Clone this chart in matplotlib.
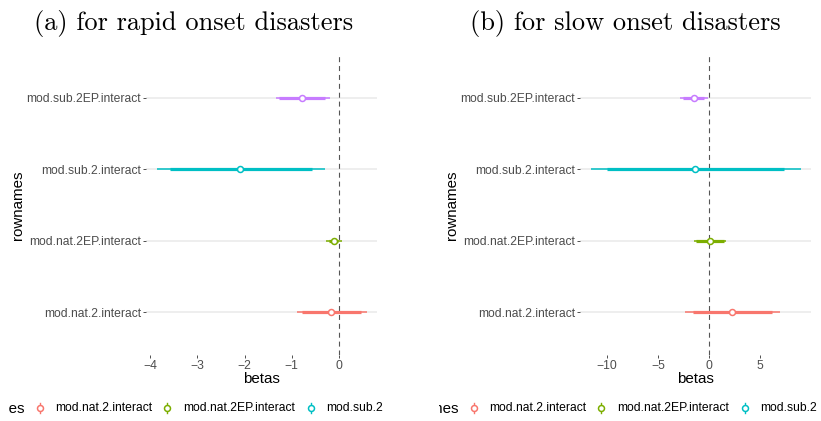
import matplotlib.pyplot as plt
from matplotlib.lines import Line2D
from matplotlib.patches import Rectangle

# model rows, bottom to top
rows = ['mod.nat.2.interact', 'mod.nat.2EP.interact',
        'mod.sub.2.interact', 'mod.sub.2EP.interact']
colors = ['#F8766D', '#7CAE00', '#00BFC4', '#C77CFF']
titles = ['(a) for rapid onset disasters', '(b) for slow onset disasters']

# (a) rapid onset: estimate, outer / inner interval ends
rapid_est = [-0.16, -0.09, -2.09, -0.77]
rapid_lo_out = [-0.89, -0.26, -3.87, -1.34]
rapid_lo_in = [-0.77, -0.20, -3.59, -1.27]
rapid_hi_in = [0.47, -0.02, -0.57, -0.29]
rapid_hi_out = [0.59, 0.07, -0.29, -0.18]
rapid_ticks = [-4, -3, -2, -1, 0]

# (b) slow onset
slow_est = [2.31, 0.10, -1.32, -1.42]
slow_lo_out = [-2.38, -1.49, -11.61, -2.80]
slow_lo_in = [-1.58, -1.26, -9.97, -2.57]
slow_hi_in = [6.21, 1.49, 7.33, -0.50]
slow_hi_out = [7.00, 1.65, 8.98, -0.10]
slow_ticks = [-10, -5, 0, 5]

W, H = 821, 421
sans = 'Liberation Sans'
grey30 = '#4D4D4D'

fig = plt.figure(figsize=(W / 100, H / 100), dpi=100)

panels = [
    (rapid_est, rapid_lo_out, rapid_lo_in, rapid_hi_in, rapid_hi_out, rapid_ticks),
    (slow_est, slow_lo_out, slow_lo_in, slow_hi_in, slow_hi_out, slow_ticks),
]
offsets = [0, 434]
crops = [(8, 383), (439, 817)]
title_x = [194, 625]
leg_title_x = [24, 459]

for p, (est, lo_out, lo_in, hi_in, hi_out, ticks) in enumerate(panels):
    off = offsets[p]
    ax = fig.add_axes([(146 + off) / W, (H - 355) / H, 231 / W, 300 / H])
    ys = list(range(1, len(rows) + 1))

    ax.axvline(0, color='#555555', lw=0.8, ls=(0, (4.5, 3.5)), zorder=2)
    for i, y in enumerate(ys):
        ax.plot([lo_out[i], hi_out[i]], [y, y], color=colors[i], lw=1.1,
                solid_capstyle='butt', zorder=3)
        ax.plot([lo_in[i], hi_in[i]], [y, y], color=colors[i], lw=2.3,
                solid_capstyle='butt', zorder=3)
        ax.plot(est[i], y, 'o', ms=4.3, mfc='white', mec=colors[i], mew=1.1,
                zorder=4)

    lo, hi = min(lo_out), max(hi_out)
    pad = 0.05 * (hi - lo)
    ax.set_xlim(lo - pad, hi + pad)
    ax.set_ylim(0.4, len(rows) + 0.6)
    ax.set_yticks(ys)
    ax.set_yticklabels(rows)
    ax.set_xticks(ticks)
    ax.grid(axis='y', color='#EBEBEB', lw=1.2, zorder=0)
    ax.set_axisbelow(True)
    for s in ax.spines.values():
        s.set_visible(False)
    ax.tick_params(length=2.2, width=0.6, color='#333333', pad=1.5,
                   labelcolor=grey30, labelsize=8.75)
    for t in ax.get_xticklabels() + ax.get_yticklabels():
        t.set_fontfamily(sans)

    # overlay in pixel units for the cropped-image look
    x0, x1 = crops[p]
    ov = fig.add_axes([x0 / W, 0, (x1 - x0) / W, 1])
    ov.set_xlim(x0, x1)
    ov.set_ylim(H, 0)
    ov.axis('off')
    ov.set_zorder(-1)

    fig.text(title_x[p] / W, 1 - 30 / H, titles[p], family='cmr10',
             fontsize=19, ha='center', va='baseline')
    ov.text(18 + off, 205, 'rownames', family=sans, fontsize=10.9,
            rotation=90, ha='center', va='center')
    ov.text(261.5 + off, 379, 'betas', family=sans, fontsize=10.9,
            ha='center', va='center')

    # legend row (cut at the crop edges)
    ov.text(leg_title_x[p], 409, 'rownames', family=sans, fontsize=10.9,
            ha='right', va='center', clip_on=True)
    key_x = [40, 167, 311, 460]
    lab_x = [55, 183, 326, 475]
    for i, lab in enumerate(rows):
        kx = key_x[i] + off
        if kx < x1:
            ov.add_line(Line2D([kx, kx], [403, 413], color=colors[i], lw=1.0))
            ov.add_line(Line2D([kx], [408], marker='o', ms=4.3, mfc='white',
                               mec=colors[i], mew=1.1, ls='None'))
        ov.text(lab_x[i] + off, 408, lab, family=sans, fontsize=8.75,
                ha='left', va='center', clip_on=True)

# white masks where the two screenshots were cropped
for mx0, mx1 in [(0, 8), (383, 439), (817, W)]:
    fig.add_artist(Rectangle((mx0 / W, 0), (mx1 - mx0) / W, 28 / H,
                             transform=fig.transFigure, facecolor='white',
                             edgecolor='none', zorder=10))

fig.savefig('out.png', dpi=100)
